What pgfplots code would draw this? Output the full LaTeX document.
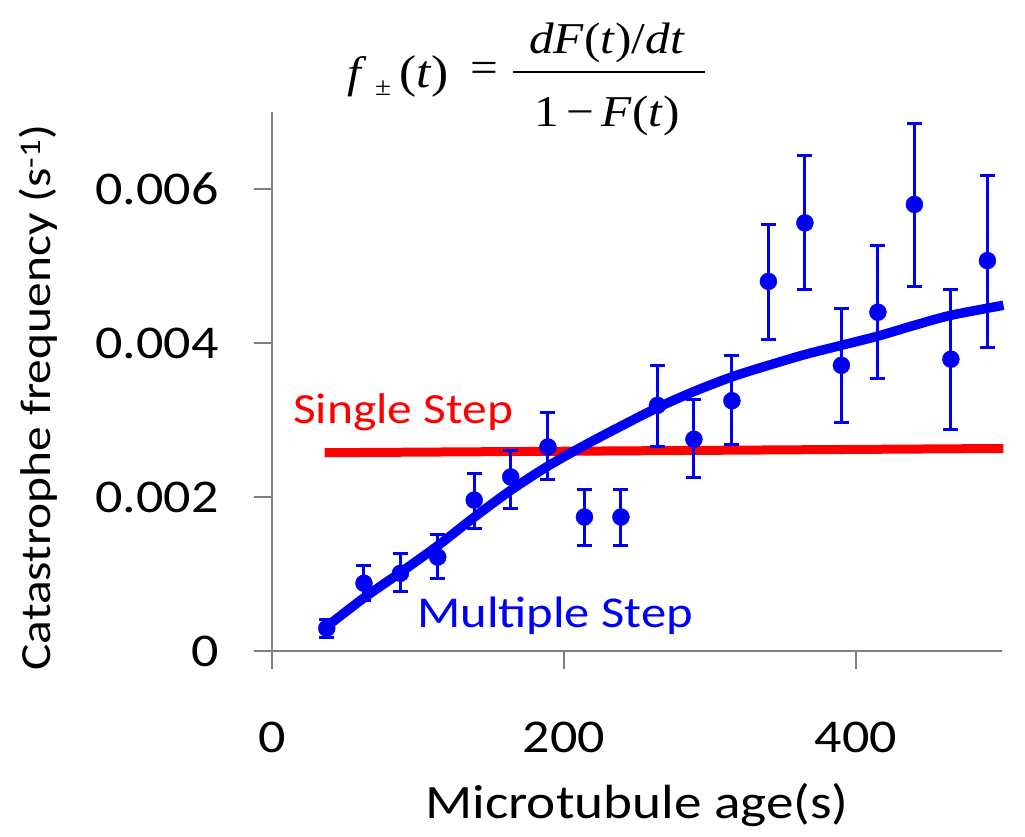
\documentclass[border=0pt]{standalone}
\usepackage{pgfplots}
\pgfplotsset{compat=1.18}
\usepackage{pgfplotstable}
\usepackage{fontspec}
\setmainfont{Carlito}[FakeStretch=1.15]
\newfontfamily\tms{Liberation Serif}[FakeStretch=1.12]
\definecolor{axgray}{RGB}{128,128,128}
\definecolor{dblue}{RGB}{0,0,245}
\definecolor{dred}{RGB}{255,0,0}

\pgfplotstableread{
x      y         ep       em
37.5   0.000295  0.00012  0.00012
63     0.00088   0.00023  0.00023
88     0.00101   0.00025  0.00024
113.5  0.00122   0.00029  0.00028
138.5  0.00196   0.00035  0.00037
163.5  0.00226   0.00035  0.00041
189    0.00265   0.00045  0.00042
214    0.00174   0.00036  0.00037
239    0.00174   0.00036  0.00037
264    0.00319   0.00052  0.00054
289    0.00275   0.00051  0.00050
315    0.00325   0.00059  0.00057
340    0.00480   0.00074  0.00075
365    0.00556   0.00088  0.00086
390    0.00371   0.00074  0.00074
415    0.00440   0.00086  0.00086
440    0.00580   0.00105  0.00107
465    0.00379   0.00091  0.00091
490    0.00507   0.00111  0.00113
}\datatable

\begin{document}
\begin{tikzpicture}[x=1pt,y=1pt]
\useasboundingbox (0,0) rectangle (1025,836);
\begin{axis}[
  at={(272pt,185pt)}, anchor=south west,
  scale only axis, width=730pt, height=539pt,
  xmin=0, xmax=500, ymin=0, ymax=0.007,
  axis x line*=bottom, axis y line*=left,
  axis line style={axgray, line width=2.7pt},
  tick align=outside, major tick length=18pt,
  tick style={axgray, line width=2.7pt},
  scaled y ticks=false, scaled x ticks=false,
  xtick={0,200,400}, xticklabels={0,200,400},
  ytick={0,0.002,0.004,0.006}, yticklabels={0,0.002,0.004,0.006},
  ticklabel style={font=\fontsize{47}{52}\selectfont, text=black},
  xticklabel style={anchor=base, yshift=-83pt},
  yticklabel style={anchor=east, xshift=-32pt},
  clip=false,
]
\addplot[dred, line width=9pt] coordinates {(36,0.002575) (501,0.00263)};
\addplot[dblue, line width=9.5pt, smooth] coordinates {
(37,0.00031) (63,0.00069) (88,0.00102) (113,0.00136) (138,0.00173)
(163,0.00208) (188,0.00239) (213,0.00266) (238,0.00291) (264,0.00316)
(289,0.00337) (315,0.00356) (340,0.00371) (365,0.00385) (390,0.00397)
(415,0.00409) (440,0.00423) (465,0.00436) (501,0.00449)};
\addplot[only marks, mark=*, dblue, mark size=8.5pt,
  mark options={fill=dblue, draw=dblue},
  error bars/.cd, y dir=both, y explicit,
  error bar style={line width=3pt, dblue},
  error mark options={rotate=90, mark size=7.5pt, line width=3pt, dblue}]
  table[x=x, y=y, y error plus=ep, y error minus=em] {\datatable};
\node[anchor=base west, text=dred, font=\fontsize{43}{48}\selectfont, inner sep=0pt] at (axis cs:14.4,0.00296) {Single Step};
\node[anchor=base west, text=dblue, font=\fontsize{44}{48}\selectfont, inner sep=0pt] at (axis cs:99.3,0.0003) {Multiple Step};
\end{axis}
% axis labels
\node[anchor=base, font=\fontsize{48}{52}\selectfont, inner sep=0pt] at (637,18) {Microtubule age(s)};
\node[anchor=base, rotate=90, font=\fontsize{43}{48}\selectfont, inner sep=0pt] at (50,438.5) {Catastrophe frequency (s\textsuperscript{-1})};
% formula
\node[anchor=base west, inner sep=0pt] at (347,748) {\tms\fontsize{44}{50}\selectfont\itshape f};
\node[anchor=base west, inner sep=0pt] at (375,740) {\tms\fontsize{26}{26}\selectfont ±};
\node[anchor=base west, inner sep=0pt] at (399,748) {\tms\fontsize{46}{50}\selectfont(\textit{t})};
\node[anchor=center, inner sep=0pt] at (484,764) {\tms\fontsize{44}{50}\selectfont =};
\node[anchor=base, inner sep=0pt] at (607,782) {\tms\fontsize{44}{50}\selectfont\textit{dF}(\textit{t})/\textit{dt}};
\draw[line width=2.7pt] (513,764) -- (705,764);
\node[anchor=base, inner sep=0pt] at (607,709) {\tms\fontsize{44}{50}\selectfont 1\,−\,\textit{F}(\textit{t})};
\end{tikzpicture}
\end{document}
